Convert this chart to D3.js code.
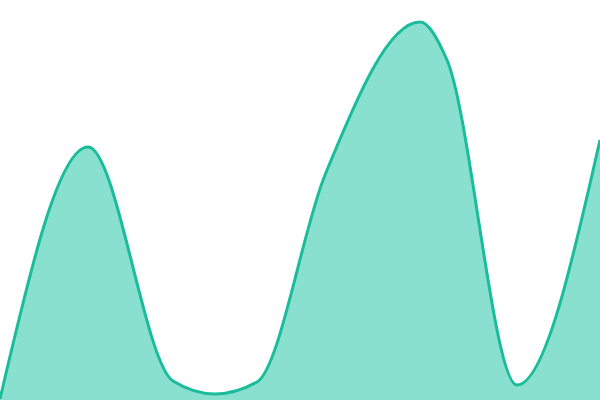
<!DOCTYPE html>
<html>
<head>
<meta charset="utf-8">
<script src="https://cdn.jsdelivr.net/npm/d3@7"></script>
<style>
  html, body { margin: 0; padding: 0; background: #fff; }
  svg { display: block; }
</style>
</head>
<body>
<svg id="chart" width="600" height="400"></svg>
<script>
// x positions and values (0-100)
var xs = [0, 88, 173, 215, 257, 325, 420, 447, 517, 600];
var values = [0.25, 63.25, 4.75, 1.5, 4.5, 56.25, 94.5, 85, 3.75, 65];

var svg = d3.select('#chart');
var width = 600, height = 400;

var x = d3.scaleLinear().domain([0, 600]).range([0, width]);
var y = d3.scaleLinear().domain([0, 100]).range([height, 0]);

var points = xs.map(function(v, i) { return {x: v, y: values[i]}; });

var area = d3.area()
  .x(function(d) { return x(d.x); })
  .y0(height)
  .y1(function(d) { return y(d.y); })
  .curve(d3.curveMonotoneX);

var line = d3.line()
  .x(function(d) { return x(d.x); })
  .y(function(d) { return y(d.y); })
  .curve(d3.curveMonotoneX);

svg.append('path')
  .attr('d', area(points))
  .attr('fill', '#8ae0cf');

svg.append('path')
  .attr('d', line(points))
  .attr('fill', 'none')
  .attr('stroke', '#1abc9c')
  .attr('stroke-width', 3);
</script>
</body>
</html>
